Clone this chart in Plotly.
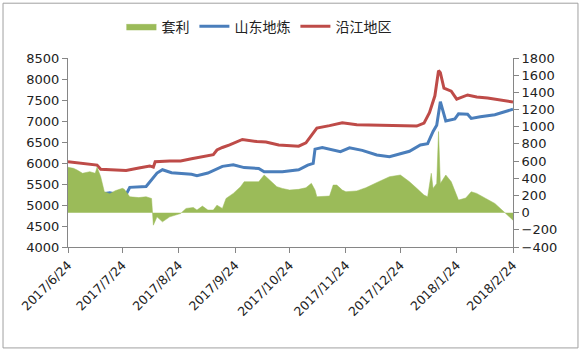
import plotly.graph_objects as go

# 套利 (right axis)
arb_dates = ["2017-06-24","2017-06-27","2017-06-29","2017-07-02","2017-07-06","2017-07-09","2017-07-10",
             "2017-07-12","2017-07-14","2017-07-17","2017-07-20","2017-07-24","2017-07-25","2017-07-28",
             "2017-08-02","2017-08-06","2017-08-09","2017-08-10","2017-08-12","2017-08-15","2017-08-19",
             "2017-08-25","2017-08-28","2017-09-01","2017-09-03","2017-09-06","2017-09-09","2017-09-12",
             "2017-09-14","2017-09-17","2017-09-19","2017-09-23","2017-09-27","2017-09-29","2017-10-07",
             "2017-10-10","2017-10-13","2017-10-17","2017-10-20","2017-10-24","2017-10-29","2017-11-02",
             "2017-11-05","2017-11-07","2017-11-08","2017-11-11","2017-11-15","2017-11-17","2017-11-19",
             "2017-11-22","2017-11-24","2017-11-30","2017-12-05","2017-12-12","2017-12-18","2017-12-24",
             "2017-12-29","2018-01-02","2018-01-06","2018-01-08","2018-01-10","2018-01-11","2018-01-13",
             "2018-01-14","2018-01-15","2018-01-18","2018-01-21","2018-01-25","2018-01-29","2018-02-01",
             "2018-02-04","2018-02-09","2018-02-14","2018-02-19","2018-02-22","2018-02-24"]
arb_vals = [528,516,496,458,477,458,528,
            418,243,220,255,283,272,185,
            175,185,165,-146,-49,-107,-49,
            -10,49,60,30,76,30,30,
            87,49,165,224,302,360,360,
            438,380,302,282,263,271,290,
            341,263,185,185,193,321,321,
            263,243,253,290,360,418,438,
            360,283,204,185,458,282,340,
            944,340,438,360,146,170,243,
            224,165,107,10,-49,-88]

# 山东地炼 (left axis)
sd_dates = ["2017-06-24","2017-07-01","2017-07-08","2017-07-10","2017-07-12","2017-07-17","2017-07-20",
            "2017-07-26","2017-07-28","2017-08-06","2017-08-09","2017-08-12","2017-08-15","2017-08-20",
            "2017-08-31","2017-09-03","2017-09-09","2017-09-17","2017-09-23","2017-09-29","2017-10-07",
            "2017-10-10","2017-10-20","2017-10-24","2017-10-29","2017-11-03","2017-11-06","2017-11-07",
            "2017-11-11","2017-11-21","2017-11-26","2017-12-03","2017-12-11","2017-12-18","2017-12-24",
            "2017-12-29","2018-01-04","2018-01-08","2018-01-11","2018-01-13","2018-01-15","2018-01-17",
            "2018-01-18","2018-01-23","2018-01-25","2018-01-30","2018-02-01","2018-02-06","2018-02-14",
            "2018-02-24"]
sd_vals = [5220,5200,5190,5120,5260,5290,5260,
           5250,5420,5440,5610,5760,5840,5770,
           5730,5700,5760,5920,5960,5890,5870,
           5790,5790,5810,5840,5950,5990,6330,
           6370,6270,6360,6300,6190,6150,6230,
           6280,6430,6460,6750,6900,7460,7150,
           7000,7050,7170,7160,7060,7100,7150,
           7280]

# 沿江地区 (left axis)
yj_dates = ["2017-06-24","2017-07-01","2017-07-08","2017-07-10","2017-07-12","2017-07-20","2017-07-26",
            "2017-08-02","2017-08-08","2017-08-10","2017-08-11","2017-08-19","2017-08-25","2017-08-31",
            "2017-09-06","2017-09-12","2017-09-14","2017-09-17","2017-09-21","2017-09-25","2017-09-28",
            "2017-10-06","2017-10-11","2017-10-18","2017-10-24","2017-10-29","2017-11-02","2017-11-05",
            "2017-11-08","2017-11-15","2017-11-22","2017-11-30","2017-12-12","2017-12-24","2018-01-02",
            "2018-01-06","2018-01-09","2018-01-12","2018-01-14","2018-01-15","2018-01-17","2018-01-21",
            "2018-01-24","2018-01-30","2018-02-04","2018-02-10","2018-02-15","2018-02-24"]
yj_vals = [6030,6000,5960,5950,5850,5840,5820,
           5880,5930,5900,6030,6050,6050,6100,
           6150,6200,6310,6370,6430,6510,6560,
           6510,6500,6430,6410,6400,6480,6650,
           6830,6890,6960,6910,6900,6890,6880,
           6950,7200,7600,8200,8150,7780,7710,
           7520,7620,7570,7550,7510,7450]

tick_dates = ["2017-06-24","2017-07-24","2017-08-24","2017-09-24","2017-10-24",
              "2017-11-24","2017-12-24","2018-01-24","2018-02-24"]
tick_text = ["2017/6/24","2017/7/24","2017/8/24","2017/9/24","2017/10/24",
             "2017/11/24","2017/12/24","2018/1/24","2018/2/24"]

GREEN = "#9BBB59"
BLUE = "#4A7EBB"
RED = "#BE4B48"
AXIS = "#868686"
FONT = "DejaVu Sans, Noto Sans CJK SC, sans-serif"

fig = go.Figure()
fig.add_trace(go.Scatter(x=arb_dates, y=arb_vals, name="套利", yaxis="y2", mode="lines",
                         fill="tozeroy", fillcolor=GREEN, line=dict(color=GREEN, width=0.5)))
fig.add_trace(go.Scatter(x=sd_dates, y=sd_vals, name="山东地炼", mode="lines",
                         line=dict(color=BLUE, width=3)))
fig.add_trace(go.Scatter(x=yj_dates, y=yj_vals, name="沿江地区", mode="lines",
                         line=dict(color=RED, width=3)))

fig.update_layout(
    width=583, height=352,
    margin=dict(l=68, r=70, t=58, b=105, autoexpand=False),
    paper_bgcolor="white", plot_bgcolor="white",
    font=dict(family=FONT, size=12, color="#222222"),
    showlegend=True,
    legend=dict(orientation="h", x=0.12, y=1.25, xanchor="left", yanchor="top",
                font=dict(family="Noto Sans CJK SC", size=14, color="#222222"),
                itemwidth=30, tracegroupgap=0),
    xaxis=dict(type="date", range=["2017-06-24", "2018-02-24"],
               tickvals=tick_dates, ticktext=tick_text, tickangle=-45,
               showline=True, linecolor=AXIS, linewidth=1, ticks="outside",
               tickcolor=AXIS, ticklen=5, showgrid=False, zeroline=False,
               tickfont=dict(size=12.5)),
    yaxis=dict(range=[4000, 8500], dtick=500, showline=True, linecolor=AXIS,
               ticks="outside", tickcolor=AXIS, ticklen=5, showgrid=False,
               zeroline=False, tickfont=dict(size=13)),
    yaxis2=dict(range=[-400, 1800], dtick=200, overlaying="y", side="right",
                showline=True, linecolor=AXIS, ticks="outside", tickcolor=AXIS,
                ticklen=5, showgrid=False, zeroline=False, tickfont=dict(size=13)),
    shapes=[dict(type="rect", xref="paper", yref="paper",
                 x0=-0.146, x1=1.146, y0=-0.534, y1=1.29,
                 line=dict(color="#A0A0A0", width=1))],
)

fig.write_html("out.html")
